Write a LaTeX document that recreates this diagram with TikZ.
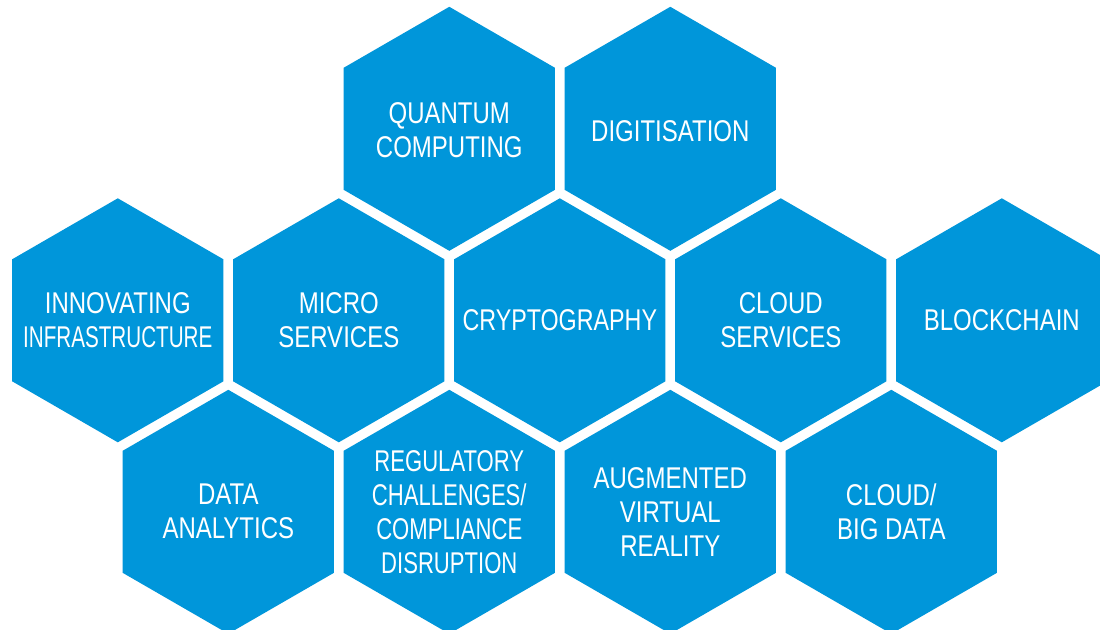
\documentclass[tikz,border=0pt]{standalone}
\usepackage{fontspec}
\usepackage{graphicx}
\setmainfont{Liberation Sans}[FakeStretch=0.8]
\usetikzlibrary{shapes.geometric}
\definecolor{hexblue}{RGB}{0,150,218}
\tikzset{
  hexa/.style={regular polygon, regular polygon sides=6, shape border rotate=30,
    minimum size=244pt, inner sep=0pt, outer sep=0pt, fill=hexblue, draw=none},
  lbl/.style={text=white, align=center, inner sep=0pt,
    font=\fontsize{30}{34}\selectfont}
}
\begin{document}
\begin{tikzpicture}[x=1pt,y=-1pt]
\useasboundingbox (0,0) rectangle (1100,629);
\clip (0,0) rectangle (1100,629);
\fill[white] (0,0) rectangle (1100,629);
% top row
\node[hexa] (hq) at (449.3,128.8) {};
\node[hexa] (hd) at (670.3,128.8) {};
% middle row
\node[hexa] (hi) at (117.8,320.3) {};
\node[hexa] (hm) at (338.8,320.3) {};
\node[hexa] (hc) at (559.8,320.3) {};
\node[hexa] (hs) at (780.8,320.3) {};
\node[hexa] (hb) at (1001.8,320.3) {};
% bottom row
\node[hexa] (ha) at (228.3,511.8) {};
\node[hexa] (hr) at (449.3,511.8) {};
\node[hexa] (hv) at (670.3,511.8) {};
\node[hexa] (hg) at (891.3,511.8) {};
% labels
\node[lbl] (tq) at ([yshift=-1.5pt]hq.center) {QUANTUM\\COMPUTING};
\node[lbl] (td) at ([yshift=-2.5pt]hd.center) {DIGITISATION};
\node[lbl] (ti) at (hi) {INNOVATING\\\scalebox{0.86}[1]{INFRASTRUCTURE}};
\node[lbl] (tm) at (hm) {MICRO\\SERVICES};
\node[lbl] (tc) at (hc) {\scalebox{0.97}[1]{CRYPTOGRAPHY}};
\node[lbl] (ts) at (hs) {CLOUD\\SERVICES};
\node[lbl] (tb) at (hb) {BLOCKCHAIN};
\node[lbl] (ta) at (ha) {DATA\\ANALYTICS};
\node[lbl] (tr) at (hr) {\scalebox{0.92}[1]{REGULATORY}\\\scalebox{0.92}[1]{CHALLENGES/}\\\scalebox{0.92}[1]{COMPLIANCE}\\\scalebox{0.92}[1]{DISRUPTION}};
\node[lbl] (tv) at (hv) {AUGMENTED\\VIRTUAL\\REALITY};
\node[lbl] (tg) at (hg) {CLOUD/\\BIG DATA};
\end{tikzpicture}
\end{document}
